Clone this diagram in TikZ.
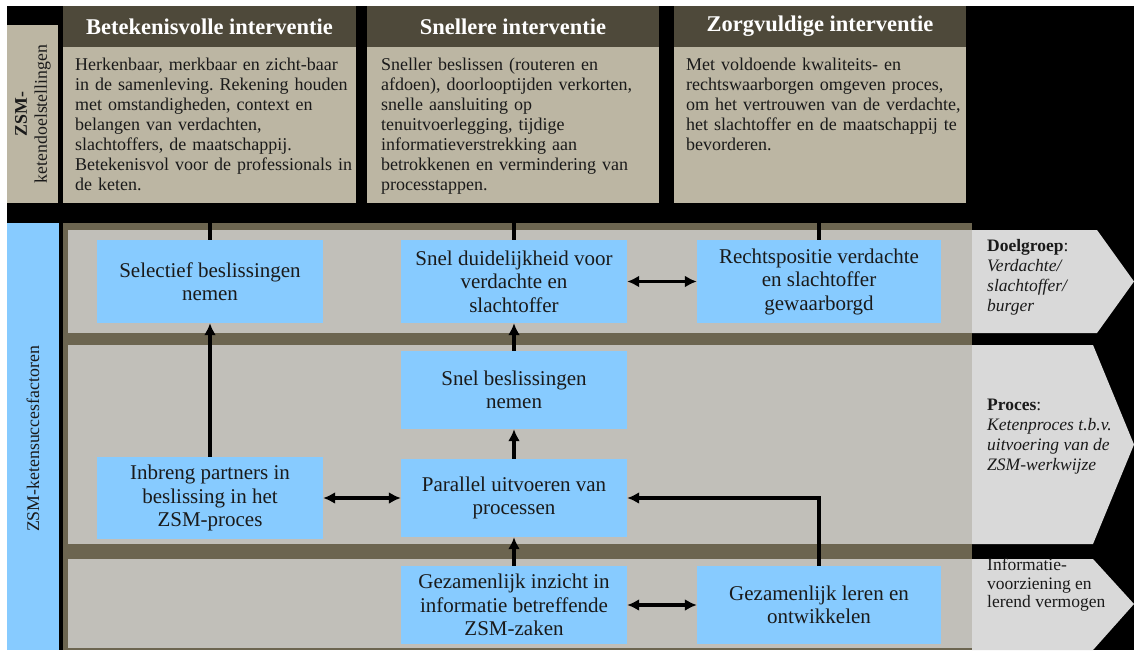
\documentclass[tikz,border=0pt]{standalone}
\usepackage{fontspec}
\setmainfont{Liberation Serif}
\usetikzlibrary{arrows.meta}
\frenchspacing
\definecolor{tanc}{HTML}{BCB6A3}
\definecolor{hdrc}{HTML}{4E493A}
\definecolor{olivec}{HTML}{6C6550}
\definecolor{rowc}{HTML}{C1BFB9}
\definecolor{bluec}{HTML}{87CBFF}
\definecolor{arrc}{HTML}{D9D9D9}
\definecolor{txtc}{HTML}{1A1A1A}
\begin{document}
\begin{tikzpicture}[x=1pt,y=-1pt,
  hdr/.style={fill=hdrc, text=white, font=\bfseries\fontsize{22.5}{24}\selectfont, minimum height=41pt, inner sep=0pt},
  bodybox/.style={fill=tanc, minimum height=156pt, inner sep=0pt},
  bodytxt/.style={anchor=base west, inner sep=0pt, text width=288pt, align=left, text=txtc, font=\fontsize{18}{19.9}\selectfont},
  bluebox/.style={fill=bluec, inner sep=0pt, align=center, text=txtc, font=\fontsize{21}{23.5}\selectfont},
  sidelab/.style={rotate=90, inner sep=0pt, align=center, text=txtc, font=\fontsize{17.8}{20}\selectfont},
  arrlab/.style={anchor=west, inner sep=0pt, align=left, text=txtc, font=\fontsize{17.5}{20}\selectfont},
  conn/.style={line width=3.6pt, draw=black},
  arr/.style={conn, -{Latex[length=12pt,width=12pt]}},
  darr/.style={conn, {Latex[length=12pt,width=12pt]}-{Latex[length=12pt,width=12pt]}}
]
\useasboundingbox (0,0) rectangle (1134,650);
\fill[white] (0,0) rectangle (1134,650);
\fill[black] (7,6) rectangle (1134,650);

% top section
\node[fill=tanc, rotate=90, minimum width=178pt, minimum height=51pt, inner sep=0pt] (lab1) at (32.5,114) {};
\node[sidelab] (lab1t) at (33,114) {\textbf{ZSM-}\\ketendoelstellingen};

\node[hdr, minimum width=293pt] (h1) at (209.5,26.5) {Betekenisvolle interventie};
\node[hdr, minimum width=292pt] (h2) at (513,26.5) {Snellere interventie};
\node[hdr, minimum width=292pt] (h3) at (820,26.5) {Zorgvuldige interventie};

\node[bodybox, minimum width=293pt] (b1) at (209.5,125) {};
\node[bodybox, minimum width=292pt] (b2) at (513,125) {};
\node[bodybox, minimum width=292pt] (b3) at (820,125) {};

\node[bodytxt] (t1) at (75,71) {Herkenbaar, merkbaar en zicht-baar\\in de samenleving. Rekening houden\\met omstandigheden, context en\\belangen van verdachten,\\slachtoffers, de maatschappij.\\Betekenisvol voor de professionals in\\de keten.};
\node[bodytxt] (t2) at (381,71) {Sneller beslissen (routeren en\\afdoen), doorlooptijden verkorten,\\snelle aansluiting op\\tenuitvoerlegging, tijdige\\informatieverstrekking aan\\betrokkenen en vermindering van\\processtappen.};
\node[bodytxt] (t3) at (686,71) {Met voldoende kwaliteits- en\\rechtswaarborgen omgeven proces,\\om het vertrouwen van de verdachte,\\het slachtoffer en de maatschappij te\\bevorderen.};

% lower section
\node[fill=bluec, rotate=90, minimum width=427pt, minimum height=52pt, inner sep=0pt] (lab2) at (33,436.5) {};
\node[sidelab] (lab2t) at (33,439) {ZSM-ketensuccesfactoren};

\fill[olivec] (63,223) rectangle (972,650);
\fill[rowc] (68,230) rectangle (972,333);
\fill[rowc] (68,345) rectangle (972,544);
\fill[rowc] (68,559) rectangle (972,648);

\fill[arrc] (972,230) -- (1097,230) -- (1134,281.5) -- (1097,333) -- (972,333) -- cycle;
\fill[arrc] (972,345) -- (1093,345) -- (1134,444.5) -- (1093,544) -- (972,544) -- cycle;
\fill[arrc] (972,559) -- (1093,559) -- (1134,604) -- (1093,650) -- (972,650) -- cycle;

\node[arrlab] (a1) at (987,277.5) {\textbf{Doelgroep}:\\\textit{Verdachte/}\\\textit{slachtoffer/}\\\textit{burger}};
\node[arrlab] (a2) at (987,437) {\textbf{Proces}:\\\textit{Ketenproces t.b.v.}\\\textit{uitvoering van de}\\\textit{ZSM-werkwijze}};
\node[arrlab, font=\fontsize{17.5}{18.5}\selectfont] (a3) at (987,585) {Informatie-\\voorziening en\\lerend vermogen};

\node[bluebox, minimum width=226pt, minimum height=83pt] (sel) at (210,281.5) {Selectief beslissingen\\nemen};
\node[bluebox, minimum width=226pt, minimum height=82pt] (inb) at (210,498) {Inbreng partners in\\beslissing in het\\ZSM-proces};
\node[bluebox, minimum width=226pt, minimum height=83pt] (sd) at (514,281.5) {Snel duidelijkheid voor\\verdachte en\\slachtoffer};
\node[bluebox, minimum width=226pt, minimum height=78pt] (sb) at (514,390) {Snel beslissingen\\nemen};
\node[bluebox, minimum width=226pt, minimum height=78pt] (par) at (514,498) {Parallel uitvoeren van\\processen};
\node[bluebox, minimum width=226pt, minimum height=78pt] (gi) at (514,605) {Gezamenlijk inzicht in\\informatie betreffende\\ZSM-zaken};
\node[bluebox, minimum width=244pt, minimum height=83pt] (rp) at (819,281.5) {Rechtspositie verdachte\\en slachtoffer\\gewaarborgd};
\node[bluebox, minimum width=244pt, minimum height=78pt] (gl) at (819,605) {Gezamenlijk leren en\\ontwikkelen};

% connectors
\draw[conn] (b1.south -| sel.north) -- (sel.north);
\draw[conn] (b2.south -| sd.north) -- (sd.north);
\draw[conn] (b3.south -| rp.north) -- (rp.north);
\draw[arr] (inb.north) -- (sel.south);
\draw[darr] (inb.east) -- (par.west);
\draw[darr] (sd.east) -- (rp.west);
\draw[arr] (sb.north) -- (sd.south);
\draw[arr] (par.north) -- (sb.south);
\draw[arr] (gi.north) -- (par.south);
\draw[darr] (gi.east) -- (gl.west);
\draw[arr] (gl.north) -- (gl.north |- par.east) -- (par.east);
\end{tikzpicture}
\end{document}
